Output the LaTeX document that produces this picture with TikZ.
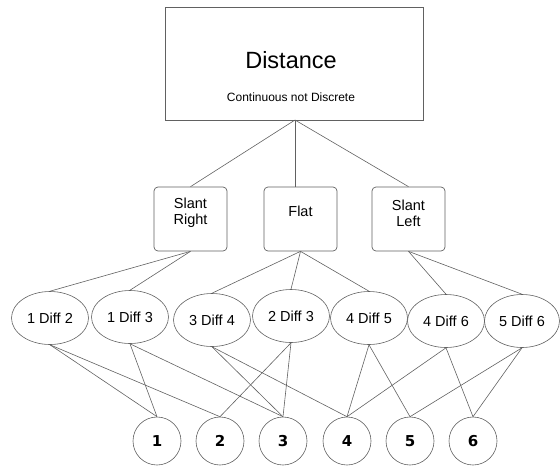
\documentclass[tikz,border=0pt]{standalone}
\usepackage{fontspec}
\setmainfont{Liberation Sans}
\newfontfamily\numfont{DejaVu Sans}
\usetikzlibrary{shapes.geometric}
\tikzset{
  conn/.style={draw=black!62, line width=0.6pt},
  topbox/.style={draw=black!62, line width=0.8pt, minimum width=258pt, minimum height=113pt, inner sep=0pt},
  midbox/.style={draw=black!62, line width=0.7pt, rounded corners=4pt, minimum width=73pt, minimum height=64pt, inner sep=0pt},
  midtext/.style={font=\fontsize{14.5}{15.7}\selectfont, align=center, inner sep=0pt},
  diffnode/.style={ellipse, draw=black!62, line width=0.6pt, minimum width=77pt, minimum height=53pt, inner sep=0pt, font=\fontsize{14.5}{17}\selectfont},
  numnode/.style={circle, draw=black!62, line width=0.6pt, minimum size=48pt, inner sep=0pt, font=\numfont\bfseries\fontsize{15}{17}\selectfont}
}
\begin{document}
\begin{tikzpicture}[x=1pt,y=-1pt]
\useasboundingbox (0,0) rectangle (560,467);
% top box
\node[topbox] (top) at (294,63.5) {};
\node[font=\fontsize{23.5}{28}\selectfont, inner sep=0pt] (dist) at (291,60) {Distance};
\node[font=\fontsize{12}{14}\selectfont, inner sep=0pt] (cont) at (291,97) {Continuous not Discrete};
\coordinate (apex) at (295,120);
% middle boxes
\node[midbox] (sr) at (190.5,219) {};
\node[midtext] (srt) at (190.5,213) {Slant\\Right};
\node[midbox] (fl) at (300.5,219) {};
\node[midtext] (flt) at (300.5,211) {Flat};
\node[midbox] (sl) at (408.5,219) {};
\node[midtext] (slt) at (408.5,213) {Slant\\Left};
\coordinate (flin) at (295,187);
% ellipses
\node[diffnode] (d12) at (50,318) {1 Diff 2};
\node[diffnode] (d13) at (130,317) {1 Diff 3};
\node[diffnode] (d34) at (212,320) {3 Diff 4};
\node[diffnode] (d23) at (291,316) {2 Diff 3};
\node[diffnode] (d45) at (369,318) {4 Diff 5};
\node[diffnode] (d46) at (446,321) {4 Diff 6};
\node[diffnode, minimum width=75pt] (d56) at (522,321) {5 Diff 6};
% circles
\node[numnode] (n1) at (157,441) {1};
\node[numnode] (n2) at (220,441) {2};
\node[numnode] (n3) at (283,441) {3};
\node[numnode] (n4) at (347,441) {4};
\node[numnode] (n5) at (410,441) {5};
\node[numnode] (n6) at (473,441) {6};
% connectors top
\draw[conn] (apex) -- (sr.north);
\draw[conn] (apex) -- (flin);
\draw[conn] (apex) -- (sl.north);
% middle to ellipses
\draw[conn] (sr.south) -- (d12.north);
\draw[conn] (sr.south) -- (d13.north);
\draw[conn] (fl.south) -- (d34.north);
\draw[conn] (fl.south) -- (d23.north);
\draw[conn] (fl.south) -- (d45.north);
\draw[conn] (sl.south) -- (d46.north);
\draw[conn] (sl.south) -- (d56.north);
% ellipses to circles
\draw[conn] (d12.south) -- (n1.north);
\draw[conn] (d12.south) -- (n2.north);
\draw[conn] (d13.south) -- (n1.north);
\draw[conn] (d13.south) -- (n3.north);
\draw[conn] (d34.south) -- (n3.north);
\draw[conn] (d34.south) -- (n4.north);
\draw[conn] (d23.south) -- (n2.north);
\draw[conn] (d23.south) -- (n3.north);
\draw[conn] (d45.south) -- (n4.north);
\draw[conn] (d45.south) -- (n5.north);
\draw[conn] (d46.south) -- (n4.north);
\draw[conn] (d46.south) -- (n6.north);
\draw[conn] (d56.south) -- (n5.north);
\draw[conn] (d56.south) -- (n6.north);
\end{tikzpicture}
\end{document}
